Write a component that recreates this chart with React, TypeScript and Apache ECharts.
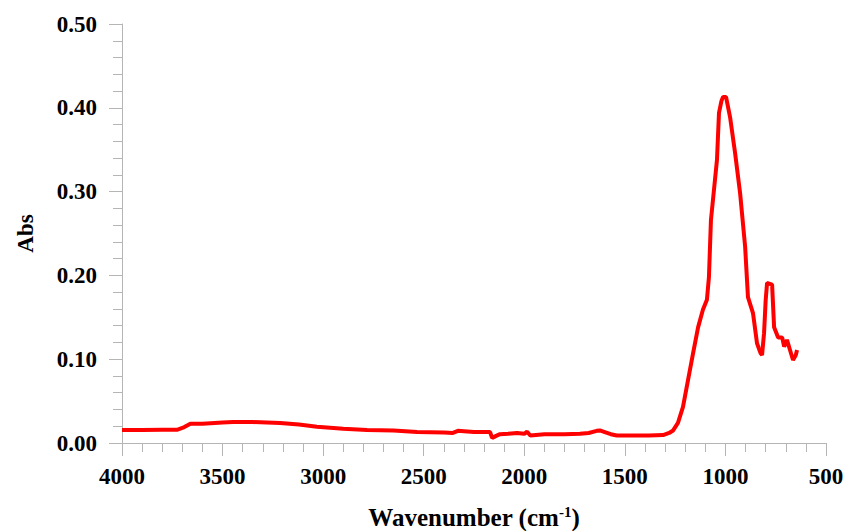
import React, { useEffect, useRef } from "react";
import * as echarts from "echarts";

const wavenumbers = [
  4000, 3900, 3800, 3727, 3690, 3660, 3600, 3500, 3448, 3349, 3280, 3214, 3120, 3031, 2900, 2782, 2650, 2533,
  2400, 2355, 2330, 2300, 2250, 2170, 2160, 2140, 2121, 2080, 2036, 2000, 1986, 1970, 1900, 1800, 1723, 1680,
  1640, 1624, 1600, 1570, 1540, 1450, 1380, 1310, 1280, 1260, 1236, 1211, 1186, 1161, 1136, 1112, 1092, 1082,
  1072, 1057, 1042, 1032, 1020, 1012, 997, 977, 952, 927, 902, 888, 863, 843, 825, 818, 808, 800, 793, 780,
  768, 758, 738, 718, 708, 694, 679, 664, 650, 644,
];
const absorbance = [
  0.0155, 0.0155, 0.0158, 0.0158, 0.019, 0.023, 0.023, 0.0245, 0.025, 0.025, 0.0245, 0.024, 0.022, 0.0195,
  0.017, 0.0155, 0.015, 0.013, 0.0125, 0.012, 0.0145, 0.014, 0.013, 0.013, 0.006, 0.0085, 0.0105, 0.011,
  0.012, 0.011, 0.0135, 0.009, 0.0105, 0.0105, 0.011, 0.012, 0.0145, 0.015, 0.013, 0.0105, 0.009, 0.009,
  0.009, 0.0095, 0.012, 0.015, 0.024, 0.043, 0.075, 0.107, 0.138, 0.159, 0.171, 0.198, 0.266, 0.302, 0.338,
  0.394, 0.408, 0.413, 0.413, 0.389, 0.346, 0.298, 0.234, 0.174, 0.155, 0.119, 0.107, 0.105, 0.131, 0.17,
  0.191, 0.19, 0.189, 0.138, 0.126, 0.126, 0.115, 0.123, 0.111, 0.099, 0.105, 0.111,
];

const xAxisName = "Wavenumber (cm";
const xAxisSup = "-1";
const yAxisName = "Abs";

const FONT = "'Liberation Serif', 'Times New Roman', serif";
const AXIS_GRAY = "#b5b5b5";

export default function App() {
  const ref = useRef<HTMLDivElement>(null);
  useEffect(() => {
    if (!ref.current) return;
    const chart = echarts.init(ref.current, undefined, { renderer: "svg" });
    const data = wavenumbers.map((w, i) => [w, absorbance[i]]);
    const axisCommon = {
      axisLine: { show: true, onZero: false, lineStyle: { color: AXIS_GRAY, width: 1 } },
      axisTick: { show: true, inside: false, length: 13, lineStyle: { color: AXIS_GRAY } },
      minorTick: { show: true, splitNumber: 5, length: 9, lineStyle: { color: AXIS_GRAY } },
      splitLine: { show: false },
      minorSplitLine: { show: false },
    };
    chart.setOption({
      animation: false,
      backgroundColor: "#ffffff",
      grid: { left: 122, right: 21, top: 24, bottom: 88, outerBoundsMode: "none", containLabel: false },
      xAxis: {
        type: "value",
        inverse: true,
        min: 500,
        max: 4000,
        interval: 500,
        ...axisCommon,
        axisLabel: {
          fontFamily: FONT,
          fontWeight: "bold",
          fontSize: 23,
          color: "#000",
          margin: 22,
          formatter: (v: number) => String(v),
        },
        name: `{b|${xAxisName}}{s|${xAxisSup}}{b|)}`,
        nameLocation: "middle",
        nameGap: 61,
        nameTextStyle: {
          rich: {
            b: { fontFamily: FONT, fontWeight: "bold", fontSize: 25, color: "#000" },
            s: {
              fontFamily: FONT,
              fontWeight: "bold",
              fontSize: 15,
              color: "#000",
              verticalAlign: "top",
              padding: [0, 0, 12, 0],
            },
          },
        },
      },
      yAxis: {
        type: "value",
        min: 0,
        max: 0.5,
        interval: 0.1,
        ...axisCommon,
        axisLabel: {
          fontFamily: FONT,
          fontWeight: "bold",
          fontSize: 23,
          color: "#000",
          margin: 25,
          formatter: (v: number) => v.toFixed(2),
        },
        name: yAxisName,
        nameLocation: "middle",
        nameGap: 85,
        nameTextStyle: { fontFamily: FONT, fontWeight: "bold", fontSize: 23, color: "#000" },
      },
      series: [
        {
          type: "line",
          data,
          showSymbol: false,
          smooth: false,
          lineStyle: { color: "#ff0000", width: 4 },
        },
      ],
    });
    return () => chart.dispose();
  }, []);
  return (
    <div
      ref={ref}
      style={{ position: "fixed", left: 0, top: 0, width: 847, height: 531, background: "#fff" }}
    />
  );
}
